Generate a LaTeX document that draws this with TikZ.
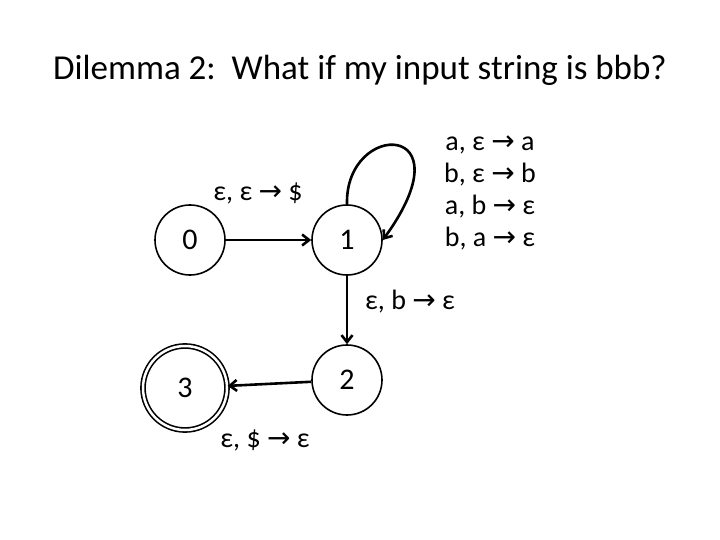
\documentclass[tikz,border=0pt]{standalone}
\usepackage{fontspec}
\setmainfont{Carlito}
\newfontfamily\symfont{DejaVu Sans}
\usetikzlibrary{arrows.meta}
\newcommand{\arr}{{\symfont\char"2192}}
\begin{document}
\begin{tikzpicture}[x=1pt, y=-1pt,
    state/.style={circle, draw, line width=1.6pt, minimum size=70pt, inner sep=0pt, font=\fontsize{30}{36}\selectfont},
    accept/.style={state, double, double distance=2.5pt, minimum size=84pt},
    edge/.style={-{Straight Barb[length=7pt, width=11pt]}, line width=2.6pt},
    lbl/.style={font=\fontsize{28}{32}\selectfont, align=center}
    ]
    \useasboundingbox (0,0) rectangle (720,540);
    \node[font=\fontsize{35}{40}\selectfont] (title) at (360,70) {Dilemma 2:\ \ What if my input string is bbb?};

    \node[state] (q0) at (190,240) {0};
    \node[state] (q1) at (347,240) {1};
    \node[state] (q2) at (347,380) {2};
    \node[accept] (q3) at (185,388) {3};

    \draw[edge] (q0) -- (q1);
    \draw[edge] (q1) -- (q2);
    \draw[edge] (q2) -- (q3);
    \draw[edge] (q1.north) .. controls (345,120) and (470,120) .. (q1.east);

    \node[lbl] (l01) at (258,193) {ε, ε \arr\ \$};
    \node[lbl] (l11) at (490,193) {a, ε \arr\ a\\b, ε \arr\ b\\a, b \arr\ ε\\b, a \arr\ ε};
    \node[lbl] (l12) at (410,302) {ε, b \arr\ ε};
    \node[lbl] (l23) at (265,440) {ε, \$ \arr\ ε};
\end{tikzpicture}
\end{document}
